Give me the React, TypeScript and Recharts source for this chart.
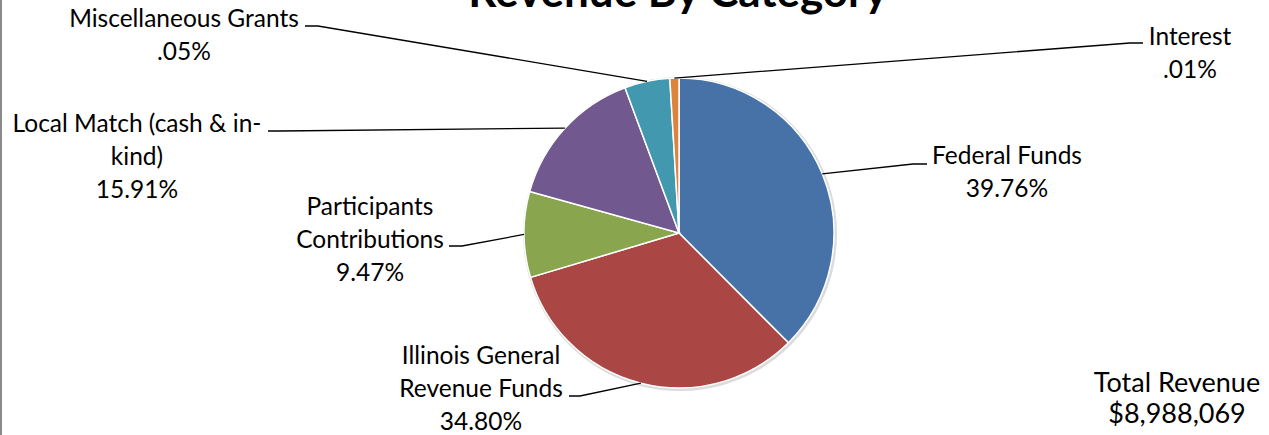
import React from "react";
import { PieChart, Pie, Cell } from "recharts";

// revenue shares as plotted (slice sizes)
const categories = [
  "Federal Funds",
  "Illinois General Revenue Funds",
  "Participants Contributions",
  "Local Match (cash & in-kind)",
  "Miscellaneous Grants",
  "Interest",
];
const shares = [0.3976, 0.348, 0.0947, 0.1591, 0.05, 0.01];
const percentLabels = ["39.76%", "34.80%", "9.47%", "15.91%", ".05%", ".01%"];
const nameLines = [
  ["Federal Funds"],
  ["Illinois General", "Revenue Funds"],
  ["Participants", "Contributions"],
  ["Local Match (cash & in-", "kind)"],
  ["Miscellaneous Grants"],
  ["Interest"],
];
const colors = ["#4672A8", "#AA4643", "#89A54E", "#71588F", "#4198AF", "#DB843D"];

const title = "Revenue By Category";
const totalLines = ["Total Revenue", "$8,988,069"];

const data = categories.map((name, i) => ({ name, value: shares[i] }));

// where each data label sits (text centre, first baseline) and where its leader stub starts/ends
const labelLayout = [
  { x: 1007, y: 164, sx: 927, sy: 164, ex: 913 },
  { x: 481, y: 364, sx: 569, sy: 396, ex: 580 },
  { x: 370, y: 215, sx: 449, sy: 246, ex: 462 },
  { x: 137, y: 132, sx: 268, sy: 131, ex: 280 },
  { x: 184, y: 27, sx: 305, sy: 26, ex: 318 },
  { x: 1190, y: 45, sx: 1143, sy: 43, ex: 1130 },
];

const FONT = "Lato, 'Open Sans', sans-serif";
const LINE = 33;
const RADIAN = Math.PI / 180;

const renderLabel = (props: any) => {
  const { cx, cy, midAngle, outerRadius, index } = props;
  const pos = labelLayout[index];
  const px = cx + outerRadius * Math.cos(-midAngle * RADIAN);
  const py = cy + outerRadius * Math.sin(-midAngle * RADIAN);
  const lines = [...nameLines[index], percentLabels[index]];
  return (
    <g key={`lbl-${index}`}>
      <polyline
        points={`${pos.sx},${pos.sy} ${pos.ex},${pos.sy} ${px},${py}`}
        fill="none"
        stroke="#000"
        strokeWidth={1.3}
      />
      <text x={pos.x} y={pos.y} textAnchor="middle" fontFamily={FONT} fontSize={24.5} fill="#000">
        {lines.map((t, j) => (
          <tspan key={j} x={pos.x} y={pos.y + j * LINE}>
            {t}
          </tspan>
        ))}
      </text>
    </g>
  );
};

export default function App() {
  return (
    <div style={{ position: "absolute", left: 0, top: 0, width: 1269, height: 435, background: "#fff" }}>
      <div style={{ position: "absolute", left: 0, top: 0, width: 2, height: 435, background: "#8a8a8a" }} />
      <PieChart width={1269} height={435} margin={{ top: 0, right: 0, bottom: 0, left: 0 }}>
        <text x={678} y={7} textAnchor="middle" fontFamily={FONT} fontWeight="bold" fontSize={44} fill="#000">
          {title}
        </text>
        {/* soft edge under the pie */}
        <Pie
          data={[{ name: "shadow", value: 1 }]}
          dataKey="value"
          cx={680}
          cy={234}
          outerRadius={157}
          fill="#dcdcdc"
          stroke="none"
          isAnimationActive={false}
        />
        <Pie
          data={data}
          dataKey="value"
          nameKey="name"
          cx={679}
          cy={233}
          outerRadius={155}
          startAngle={90}
          endAngle={-270}
          stroke="#fff"
          strokeWidth={1.5}
          label={renderLabel}
          labelLine={false}
          isAnimationActive={false}
        >
          {data.map((d, i) => (
            <Cell key={d.name} fill={colors[i]} />
          ))}
        </Pie>
        <text x={1177} y={392} textAnchor="middle" fontFamily={FONT} fontSize={27} fill="#000">
          {totalLines.map((t, j) => (
            <tspan key={j} x={1177} y={392 + j * 31}>
              {t}
            </tspan>
          ))}
        </text>
      </PieChart>
    </div>
  );
}
